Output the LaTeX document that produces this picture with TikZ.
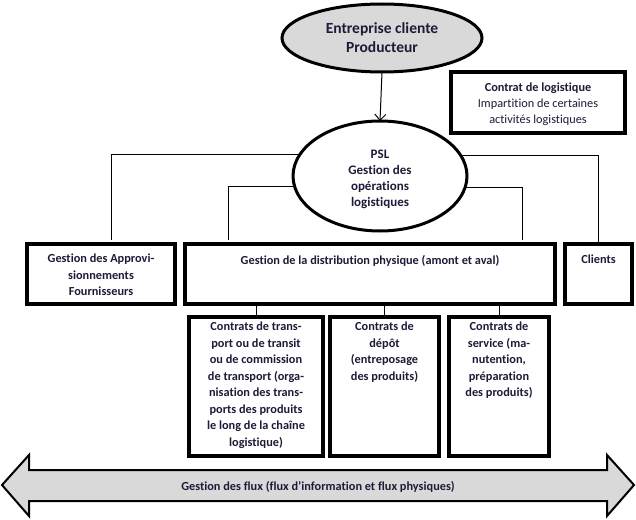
\documentclass[tikz,border=0pt]{standalone}
\usepackage{fontspec}
\setmainfont{Carlito}[Ligatures={NoCommon}]
\usetikzlibrary{arrows.meta,shapes.geometric}
\definecolor{txtc}{HTML}{1C1C38}
\definecolor{fillg}{HTML}{D9D9D9}
\tikzset{
  thickbox/.style={draw=black, line width=4pt, inner sep=0pt, outer sep=0pt, fill=white},
  oval/.style={draw=black, ellipse, line width=3pt, inner sep=0pt, outer sep=0pt},
  conn/.style={draw=black, line width=1pt},
  lbl/.style={text=txtc, font=\fontsize{12.3pt}{16.5pt}\selectfont\bfseries, align=center, inner sep=0pt, anchor=north},
}
\begin{document}
\begin{tikzpicture}[x=1pt, y=-1pt]
\useasboundingbox (0,0) rectangle (636,519);
% ellipses
\node[oval, fill=fillg, minimum width=200, minimum height=68] (ent) at (382,38) {};
\node[text=txtc, font=\fontsize{15.5pt}{19pt}\selectfont\bfseries, align=center] (entt) at (382,38) {Entreprise cliente\\Producteur};
\node[oval, fill=white, minimum width=174, minimum height=110] (psl) at (380,176) {};
\node[lbl, font=\fontsize{13pt}{16pt}\selectfont\bfseries] (pslt) at (380,150) {PSL\\Gestion des\\opérations\\logistiques};
\draw[conn, -{Straight Barb[length=6pt,width=11pt,line width=1pt]}] (ent.south) -- (psl.north);
% contract box
\node[thickbox, minimum width=174, minimum height=61] (ctr) at (538,102.5) {};
\node[lbl, font=\fontsize{12.3pt}{16pt}\selectfont] (ctrt) at (538,83) {\textbf{Contrat de logistique}\\Impartition de certaines\\activités logistiques};
% middle row
\node[thickbox, minimum width=148, minimum height=60] (appro) at (101,274) {};
\node[lbl] (approt) at (101,254) {Gestion des Approvi-\\sionnements\\Fournisseurs};
\node[thickbox, minimum width=370, minimum height=60] (dist) at (370,274) {};
\node[lbl] (distt) at (370,255) {Gestion de la distribution physique (amont et aval)};
\node[thickbox, minimum width=67, minimum height=60] (cli) at (598.5,274) {};
\node[lbl] (clit) at (598.5,255) {Clients};
% bottom boxes
\node[thickbox, minimum width=134, minimum height=139] (b1) at (256,386.5) {};
\node[lbl] (b1t) at (256,322) {Contrats de trans-\\port ou de transit\\ou de commission\\de transport (orga-\\nisation des trans-\\ports des produits\\le long de la chaîne\\logistique)};
\node[thickbox, minimum width=109, minimum height=139] (b2) at (384.5,386.5) {};
\node[lbl] (b2t) at (384.5,322) {Contrats de\\dépôt\\(entreposage\\des produits)};
\node[thickbox, minimum width=100, minimum height=139] (b3) at (499,386.5) {};
\node[lbl] (b3t) at (499,322) {Contrats de\\service (ma-\\nutention,\\préparation\\des produits)};
% connectors
\coordinate (ca) at (111,240);
\coordinate (cd1) at (228,240);
\coordinate (cd2) at (522,240);
\draw[conn] (psl.165.4) -| (ca);
\draw[conn] (psl.187.4) -| (cd1);
\draw[conn] (psl.352.6) -| (cd2);
\draw[conn] (psl.14.6) -| (cli.north);
\draw[conn] (dist.south -| b1.north) -- (b1.north);
\draw[conn] (dist.south -| b2.north) -- (b2.north);
\draw[conn] (dist.south -| b3.north) -- (b3.north);
% flux arrow
\draw[line width=2pt, fill=fillg, line join=miter]
  (2,485) -- (29,455) -- (29,470) -- (607,470) -- (607,455) -- (634,485)
  -- (607,516) -- (607,501) -- (29,501) -- (29,516) -- cycle;
\node[lbl, anchor=center] (flux) at (318,487) {Gestion des flux (flux d’information et flux physiques)};
\end{tikzpicture}
\end{document}
